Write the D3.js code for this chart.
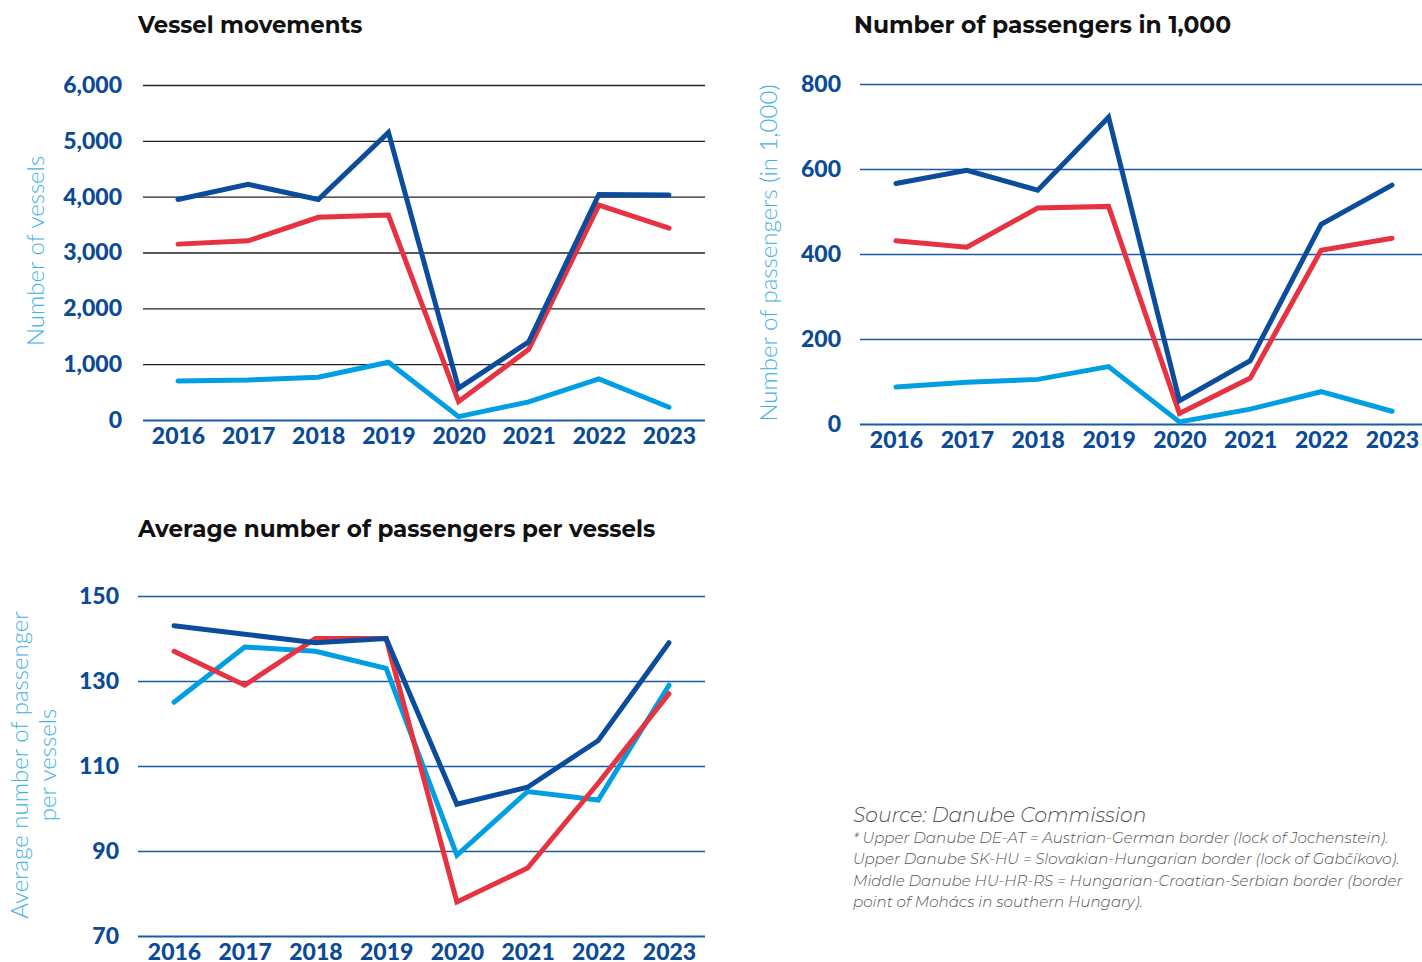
<!DOCTYPE html>
<html><head><meta charset="utf-8">
<script src="https://cdn.jsdelivr.net/npm/d3@7/dist/d3.min.js"></script>
<style>
html,body{margin:0;padding:0;background:#fff;}
svg{display:block;}
</style></head>
<body>
<svg id="c" width="1422" height="962"></svg>
<script>
const years = ["2016","2017","2018","2019","2020","2021","2022","2023"];

// Vessel movements
const vesselsDEAT = [3950, 4220, 3950, 5150, 570, 1400, 4040, 4030];
const vesselsSKHU = [3150, 3210, 3630, 3670, 330, 1265, 3850, 3435];
const vesselsHUHRRS = [700, 715, 765, 1035, 60, 325, 735, 228];
const vesselTicks = [0, 1000, 2000, 3000, 4000, 5000, 6000];

// Number of passengers in 1,000
const paxDEAT = [566, 597, 550, 722, 55, 149, 470, 562];
const paxSKHU = [431, 416, 508, 512, 25, 108, 409, 437];
const paxHUHRRS = [87, 98, 105, 135, 5, 35, 76, 30];
const paxTicks = [0, 200, 400, 600, 800];

// Average number of passengers per vessel
const avgDEAT = [143, 141, 139, 140, 101, 105, 116, 139];
const avgSKHU = [137, 129, 140, 140, 78, 86, 106, 127];
const avgHUHRRS = [125, 138, 137, 133, 89, 104, 102, 129];
const avgTicks = [70, 90, 110, 130, 150];

const C_DARK = "#0b4c9c", C_RED = "#e63241", C_LIGHT = "#009fe3";
const TICK_COL = "#0b4a96", AXT_COL = "#3fb1e5";

const svg = d3.select("#c");

function chart(o){
  const g = svg.append("g");
  const x = d3.scalePoint().domain(years).range([o.x0, o.x1]);
  const y = d3.scaleLinear().domain(o.domain).range([o.yb, o.yt]);
  const ga = g.append("g")
    .call(d3.axisLeft(y).tickValues(o.ticks).tickSize(-(o.gr - o.gl)).tickFormat(o.fmt).tickPadding(o.pad))
    .attr("transform", `translate(${o.gl},0)`);
  ga.select(".domain").remove();
  ga.selectAll(".tick line").attr("stroke", d => d === o.domain[0] ? "#1a5aa6" : o.grid).attr("stroke-width", d => d === o.domain[0] ? 2.2 : 1.4);
  ga.selectAll(".tick text").attr("fill", TICK_COL).style("font-family", "Lato, 'Open Sans', sans-serif")
    .style("font-weight", "900").style("font-size", "23px");
  const xa = g.append("g").attr("transform", `translate(0,${o.yb})`)
    .call(d3.axisBottom(x).tickSize(0).tickPadding(o.xpad));
  xa.select(".domain").remove();
  xa.selectAll(".tick text").attr("fill", TICK_COL).style("font-family", "Lato, 'Open Sans', sans-serif")
    .style("font-weight", "900").style("font-size", "23px");
  const line = d3.line().x((d,i) => x(years[i])).y(d => y(d));
  o.series.forEach(s => {
    g.append("path").datum(s.v).attr("d", line).attr("fill", "none")
      .attr("stroke", s.c).attr("stroke-width", 5).attr("stroke-linejoin", "miter").attr("stroke-linecap", "round");
  });
  g.append("text").attr("x", o.tx).attr("y", o.ty).text(o.title)
    .style("font-family", "Montserrat, 'Open Sans', Lato, sans-serif").style("font-weight", "700")
    .style("font-size", o.tfs + "px").attr("fill", "#111");
  const at = g.append("text").attr("transform", `translate(${o.ax},${o.ay}) rotate(-90)`)
    .attr("text-anchor", "middle").attr("fill", AXT_COL)
    .style("font-family", "Lato, 'Open Sans', sans-serif").style("font-weight", "300").style("font-size", "24px");
  o.atitle.forEach((t, i) => at.append("tspan").attr("x", 0).attr("dy", i === 0 ? 0 : 28).text(t));
}

const fmtComma = d3.format(",");

chart({
  x0: 178, x1: 669, yb: 420, yt: 85, gl: 143, gr: 705,
  domain: [0, 6000], ticks: vesselTicks, fmt: fmtComma, pad: 21, xpad: 8, grid: "#222",
  series: [{v: vesselsHUHRRS, c: C_LIGHT}, {v: vesselsSKHU, c: C_RED}, {v: vesselsDEAT, c: C_DARK}],
  title: "Vessel movements", tx: 138, ty: 33, tfs: 22.8,
  atitle: ["Number of vessels"], ax: 44, ay: 251
});

chart({
  x0: 896, x1: 1392, yb: 424, yt: 84, gl: 860, gr: 1422,
  domain: [0, 800], ticks: paxTicks, fmt: d3.format("d"), pad: 19, xpad: 8, grid: "#1a5aa6",
  series: [{v: paxHUHRRS, c: C_LIGHT}, {v: paxSKHU, c: C_RED}, {v: paxDEAT, c: C_DARK}],
  title: "Number of passengers in 1,000", tx: 854, ty: 33, tfs: 23.4,
  atitle: ["Number of passengers (in 1,000)"], ax: 777, ay: 253
});

chart({
  x0: 174, x1: 669, yb: 936, yt: 596, gl: 138, gr: 705,
  domain: [70, 150], ticks: avgTicks, fmt: d3.format("d"), pad: 19, xpad: 8, grid: "#1a5aa6",
  series: [{v: avgHUHRRS, c: C_LIGHT}, {v: avgSKHU, c: C_RED}, {v: avgDEAT, c: C_DARK}],
  title: "Average number of passengers per vessels", tx: 138, ty: 537, tfs: 23.1,
  atitle: ["Average number of passenger", "per vessels"], ax: 28, ay: 765
});

const notes = svg.append("g").style("font-family", "Montserrat, 'Open Sans', Lato, sans-serif")
  .style("font-style", "italic").style("font-weight", "300").attr("fill", "#555");
notes.append("text").attr("x", 853).attr("y", 822).style("font-size", "20.3px").text("Source: Danube Commission");
const noteLines = [
  "* Upper Danube DE-AT = Austrian-German border (lock of Jochenstein).",
  "Upper Danube SK-HU = Slovakian-Hungarian border (lock of Gabčíkovo).",
  "Middle Danube HU-HR-RS = Hungarian-Croatian-Serbian border (border",
  "point of Mohács in southern Hungary)."
];
noteLines.forEach((t, i) => notes.append("text").attr("x", 853).attr("y", 843 + i * 21.3)
  .style("font-size", "15.1px").text(t));
</script>
</body></html>
